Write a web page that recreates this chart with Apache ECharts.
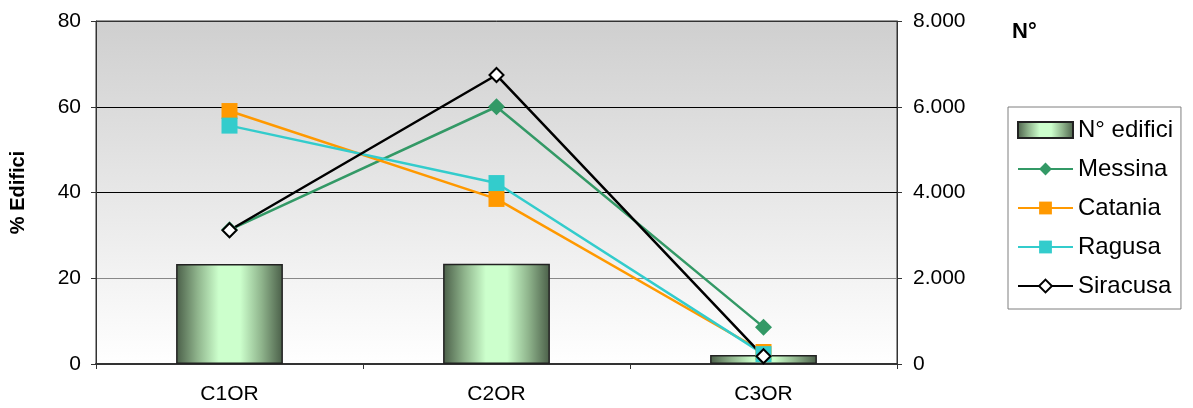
<!DOCTYPE html>
<html><head><meta charset="utf-8">
<script src="https://cdn.jsdelivr.net/npm/echarts@6/dist/echarts.min.js"></script>
<style>html,body{margin:0;padding:0;background:#fff}#c{width:1193px;height:408px}</style>
</head><body><div id="c"></div>
<script>
var categories = ['C1OR', 'C2OR', 'C3OR'];
var edifici = [2330, 2340, 210];
var messina = [31.3, 60.0, 8.6];
var catania = [59.0, 38.5, 2.8];
var ragusa = [55.6, 42.2, 2.3];
var siracusa = [31.2, 67.4, 1.8];
var leftTicks = [0, 20, 40, 60, 80];
var rightTicks = ['0', '2.000', '4.000', '6.000', '8.000'];

var FONT = 'Liberation Sans, Arial, sans-serif';
var barGrad = new echarts.graphic.LinearGradient(0, 0, 1, 0, [
  {offset: 0, color: '#4a5e48'},
  {offset: 0.2, color: '#8fb48c'},
  {offset: 0.4, color: '#ccffcc'},
  {offset: 0.6, color: '#ccffcc'},
  {offset: 0.8, color: '#8fb48c'},
  {offset: 1, color: '#4a5e48'}
]);
var chart = echarts.init(document.getElementById('c'));
chart.setOption({
  animation: false,
  textStyle: {fontFamily: FONT},
  title: {text: 'N°', left: 1007, top: 16, textStyle: {fontFamily: FONT, fontSize: 22, fontWeight: 'bold', color: '#000'}},
  grid: {left: 96, right: 296, top: 21, bottom: 44, show: true, borderColor: '#333', borderWidth: 1,
    outerBoundsMode: 'none', containLabel: false,
    backgroundColor: new echarts.graphic.LinearGradient(0, 0, 0, 1, [{offset: 0, color: '#cfcfcf'}, {offset: 1, color: '#ffffff'}])},
  legend: {
    orient: 'vertical', left: 1008, top: 107, padding: [11, 8, 11, 9],
    borderColor: '#7f7f7f', borderWidth: 1, itemGap: 15, itemWidth: 55, itemHeight: 16,
    textStyle: {fontFamily: FONT, fontSize: 24, color: '#000'},
    data: [{name: 'N° edifici', icon: 'rect'}, 'Messina', 'Catania', 'Ragusa', 'Siracusa']
  },
  xAxis: {
    type: 'category', data: categories, boundaryGap: true,
    axisLine: {lineStyle: {color: '#333', width: 2}},
    axisTick: {show: true, length: 5, lineStyle: {color: '#333'}},
    axisLabel: {fontFamily: FONT, fontSize: 21, color: '#000', margin: 20}
  },
  yAxis: [{
    type: 'value', min: 0, max: 80, interval: 20,
    name: '% Edifici', nameLocation: 'middle', nameGap: 68, nameRotate: 90,
    nameTextStyle: {fontFamily: FONT, fontSize: 20, fontWeight: 'bold', color: '#000'},
    axisLine: {show: true, lineStyle: {color: '#333'}},
    axisTick: {show: true, length: 5, lineStyle: {color: '#333'}},
    axisLabel: {fontFamily: FONT, fontSize: 21, color: '#000', margin: 15,
      formatter: function (v) { return leftTicks.indexOf(v) >= 0 ? String(v) : ''; }},
    splitLine: {show: true, lineStyle: {color: ['#333', '#888', '#000', '#000', '#333'], width: 1}}
  }, {
    type: 'value', min: 0, max: 8000, interval: 2000,
    axisLine: {show: true, lineStyle: {color: '#333'}},
    axisTick: {show: true, length: 5, lineStyle: {color: '#333'}},
    axisLabel: {fontFamily: FONT, fontSize: 21, color: '#000', margin: 16,
      formatter: function (v) { return rightTicks[v / 2000]; }},
    splitLine: {show: false}
  }],
  series: [
    {name: 'N° edifici', type: 'bar', yAxisIndex: 1, data: edifici, barWidth: '40%',
      itemStyle: {color: barGrad, borderColor: '#222', borderWidth: 1.5}},
    {name: 'Messina', type: 'line', data: messina, symbol: 'diamond', symbolSize: 17,
      lineStyle: {color: '#339966', width: 2.5}, itemStyle: {color: '#339966'}},
    {name: 'Catania', type: 'line', data: catania, symbol: 'rect', symbolSize: 16,
      lineStyle: {color: '#ff9900', width: 2.5}, itemStyle: {color: '#ff9900'}},
    {name: 'Ragusa', type: 'line', data: ragusa, symbol: 'rect', symbolSize: 16,
      lineStyle: {color: '#33cccc', width: 2.5}, itemStyle: {color: '#33cccc'}},
    {name: 'Siracusa', type: 'line', data: siracusa, symbol: 'diamond', symbolSize: 14,
      lineStyle: {color: '#000', width: 2.5}, itemStyle: {color: '#fff', borderColor: '#000', borderWidth: 2}}
  ]
});
</script></body></html>
